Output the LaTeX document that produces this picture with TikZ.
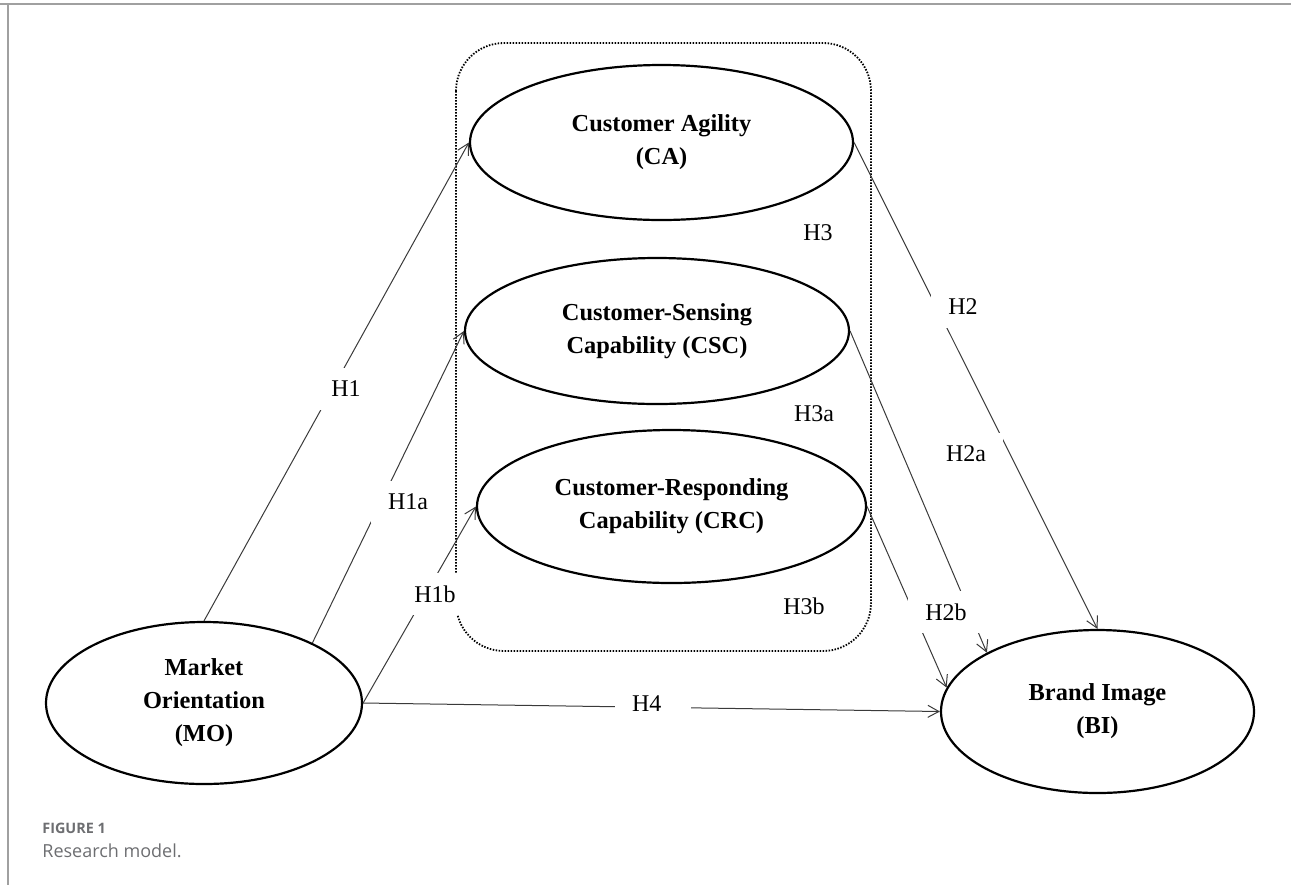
\documentclass[tikz,border=0pt]{standalone}
\usepackage{fontspec}
\setmainfont{Liberation Serif}
\newfontfamily\capfont{Open Sans}
\usetikzlibrary{shapes.geometric,arrows.meta}
\definecolor{capgray}{HTML}{6D6E71}
\definecolor{framegray}{HTML}{A0A0A0}
\definecolor{linkgray}{HTML}{3A3A3A}

\begin{document}
\begin{tikzpicture}[x=0.5pt, y=-0.5pt,
    construct/.style={draw, ellipse, line width=1.1pt, inner sep=0pt,
        align=center, font=\fontsize{12.2}{16.5}\selectfont\bfseries},
    hyp/.style={fill=white, inner xsep=8.5pt, inner ysep=6.5pt,
        font=\fontsize{12}{14}\selectfont},
    link/.style={draw=linkgray, line width=0.5pt,
        -{Straight Barb[length=5.5pt, width=6pt]}}]
    \useasboundingbox (0,0) rectangle (1291,885);
    \draw[framegray, line width=0.8pt] (0,4) -- (1291,4);
    \draw[framegray, line width=0.8pt] (8,4) -- (8,885);

    \draw[line width=0.9pt, dash pattern=on 0.75pt off 0.75pt,
        rounded corners=24pt] (456,43) rectangle (871,651);

    \node[construct, minimum width=191.5pt, minimum height=77.5pt]
        (ca) at (661.5,142.5) {Customer Agility\\(CA)};
    \node[construct, minimum width=192pt, minimum height=73pt]
        (csc) at (657,331) {Customer-Sensing\\Capability (CSC)};
    \node[construct, minimum width=194.5pt, minimum height=76.5pt]
        (crc) at (671.5,506.5) {Customer-Responding\\Capability (CRC)};
    \node[construct, minimum width=158pt, minimum height=81pt]
        (mo) at (204,703) {Market\\Orientation\\(MO)};
    \node[construct, minimum width=156.5pt, minimum height=81.5pt]
        (bi) at (1097.5,711.5) {Brand Image\\(BI)};

    \draw[link] (mo.north) -- (ca.west);
    \draw[link] (mo.29) -- (csc.west);
    \draw[link] (mo.east) -- (crc.west);
    \draw[link] (mo.east) -- (bi.west);
    \draw[link] (ca.east) -- (bi.north);
    \draw[link] (csc.east) -- (bi.152);
    \draw[link] (crc.east) -- (bi.171);

    \node[hyp] (h1) at (346,389) {H1};
    \node[hyp] (h1a) at (408,502) {H1a};
    \node[hyp] (h1b) at (435,594) {H1b};
    \node[hyp, text width=21pt, align=left] (h4) at (653,704) {H4};
    \node[hyp] (h2) at (963,307) {H2};
    \node[hyp] (h2a) at (966,454) {H2a};
    \node[hyp] (h2b) at (946,612) {H2b};
    \node[hyp] (h3) at (818,233) {H3};
    \node[hyp] (h3a) at (814,414) {H3a};
    \node[hyp] (h3b) at (804,606) {H3b};

    \node[anchor=base west, inner sep=0pt, text=capgray,
        font=\capfont\bfseries\fontsize{7.2}{9}\selectfont]
        (fig) at (42,833) {FIGURE 1};
    \node[anchor=base west, inner sep=0pt, text=capgray,
        font=\capfont\fontsize{9}{11}\selectfont]
        (cap) at (42,857) {Research model.};
\end{tikzpicture}
\end{document}
